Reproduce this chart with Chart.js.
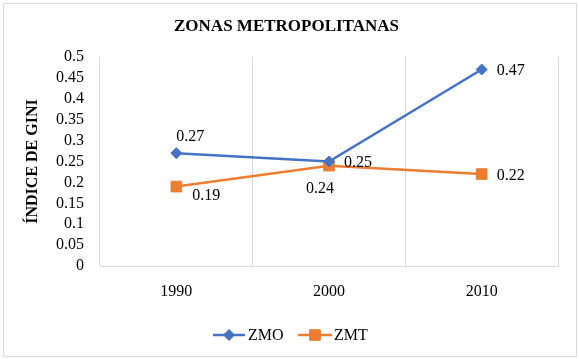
<!DOCTYPE html>
<html>
<head>
<meta charset="utf-8">
<script src="https://cdn.jsdelivr.net/npm/chart.js@4"></script>
<style>
  html, body { margin: 0; padding: 0; background: #fff; }
  #wrap { position: relative; width: 579px; height: 359px; }
  #frame { position: absolute; left: 3px; top: 3px; width: 572px; height: 352px; border: 1px solid #d9d9d9; pointer-events: none; }
  canvas { display: block; }
</style>
</head>
<body>
<div id="wrap">
  <canvas id="c" width="579" height="359"></canvas>
  <div id="frame"></div>
</div>
<script>
const titleText = "ZONAS METROPOLITANAS";
const yAxisTitle = "ÍNDICE DE GINI";
const categories = ["1990", "2000", "2010"];
const seriesNames = ["ZMO", "ZMT"];
const zmoValues = [0.27, 0.25, 0.47];
const zmtValues = [0.19, 0.24, 0.22];
const valueLabelsZMO = ["0.27", "0.25", "0.47"];
const valueLabelsZMT = ["0.19", "0.24", "0.22"];
const yTickLabels = ["0", "0.05", "0.1", "0.15", "0.2", "0.25", "0.3", "0.35", "0.4", "0.45", "0.5"];

const BLUE = "#4472C4";
const ORANGE = "#ED7D31";
const SERIF = "'Liberation Serif', 'Times New Roman', serif";

// label offsets (style only)
const labelOffsets = [
  [[14, -16.5], [29, 1], [29, 1.5]],
  [[30, 9.5], [-9, 23], [29, 2]]
];

const dataLabelPlugin = {
  id: 'dataLabels',
  afterDatasetsDraw(chart) {
    const ctx = chart.ctx;
    const labelSets = [valueLabelsZMO, valueLabelsZMT];
    ctx.save();
    ctx.font = "16px " + SERIF;
    ctx.fillStyle = "#000";
    ctx.textAlign = "center";
    ctx.textBaseline = "middle";
    chart.data.datasets.forEach((ds, di) => {
      const meta = chart.getDatasetMeta(di);
      meta.data.forEach((pt, i) => {
        const off = labelOffsets[di][i];
        ctx.fillText(labelSets[di][i], pt.x + off[0], pt.y + off[1]);
      });
    });
    ctx.restore();
  }
};

const legendPlugin = {
  id: 'customLegend',
  afterDraw(chart) {
    const ctx = chart.ctx;
    const y = 335;
    const items = [
      {name: seriesNames[0], color: BLUE, style: 'rectRot', radius: 5.5, x0: 213, x1: 245, tx: 248},
      {name: seriesNames[1], color: ORANGE, style: 'rect', radius: 7.5, x0: 298, x1: 332, tx: 334}
    ];
    ctx.save();
    items.forEach(it => {
      ctx.strokeStyle = it.color;
      ctx.lineWidth = 2.5;
      ctx.beginPath();
      ctx.moveTo(it.x0, y);
      ctx.lineTo(it.x1, y);
      ctx.stroke();
      ctx.fillStyle = it.color;
      ctx.lineWidth = 1;
      Chart.helpers.drawPoint(ctx, {pointStyle: it.style, radius: it.radius, rotation: 0, borderWidth: 1}, (it.x0 + it.x1) / 2, y);
      ctx.fillStyle = "#000";
      ctx.font = "16px " + SERIF;
      ctx.textAlign = "left";
      ctx.textBaseline = "middle";
      ctx.fillText(it.name, it.tx, y + 1);
    });
    ctx.restore();
  }
};

new Chart(document.getElementById('c'), {
  type: 'line',
  data: {
    labels: categories,
    datasets: [
      {
        label: seriesNames[0],
        data: zmoValues,
        borderColor: BLUE,
        backgroundColor: BLUE,
        borderWidth: 2.5,
        pointStyle: 'rectRot',
        pointRadius: 5.5,
        pointHoverRadius: 5.5,
        pointBorderWidth: 1,
        tension: 0
      },
      {
        label: seriesNames[1],
        data: zmtValues,
        borderColor: ORANGE,
        backgroundColor: ORANGE,
        borderWidth: 2.5,
        pointStyle: 'rect',
        pointRadius: 7.5,
        pointHoverRadius: 7.5,
        pointBorderWidth: 1,
        tension: 0
      }
    ]
  },
  options: {
    responsive: false,
    animation: false,
    events: [],
    layout: { padding: { left: 15, right: 21, top: 0, bottom: 53 } },
    plugins: {
      legend: { display: false },
      tooltip: { enabled: false },
      title: {
        display: true,
        text: titleText,
        color: "#000",
        font: { family: SERIF, size: 17, weight: 'bold' },
        padding: { top: 16.3, bottom: 20.3 }
      }
    },
    scales: {
      x: {
        type: 'category',
        offset: true,
        grid: { display: true, offset: true, color: "#d9d9d9", lineWidth: 1, drawTicks: false },
        border: { display: true, color: "#d9d9d9", width: 1 },
        ticks: { color: "#000", font: { family: SERIF, size: 16 }, padding: 16.4, maxRotation: 0 },
        afterFit(scale) { scale.height = 40; }
      },
      y: {
        min: 0,
        max: 0.5,
        ticks: {
          stepSize: 0.05,
          autoSkip: false,
          color: "#000",
          font: { family: SERIF, size: 16 },
          padding: 16,
          callback: (v, i) => yTickLabels[i]
        },
        grid: { display: false, drawTicks: false },
        border: { display: false },
        title: {
          display: true,
          text: yAxisTitle,
          color: "#000",
          font: { family: SERIF, size: 16, weight: 'bold' },
          padding: { top: 8.4, bottom: 0 }
        },
        afterFit(scale) { scale.width = 85; }
      }
    }
  },
  plugins: [dataLabelPlugin, legendPlugin]
});
</script>
</body>
</html>
